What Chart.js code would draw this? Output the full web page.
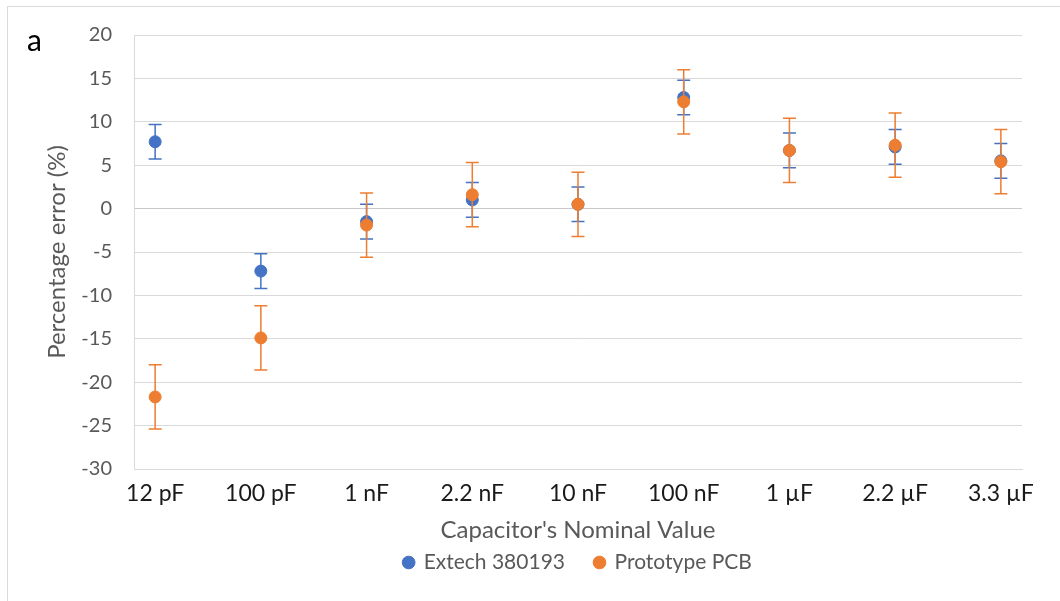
<!DOCTYPE html>
<html>
<head>
<meta charset="utf-8">
<script src="https://cdn.jsdelivr.net/npm/chart.js@4.4.1/dist/chart.umd.min.js"></script>
<style>
    html, body { margin: 0; padding: 0; background: #fff; overflow: hidden; }
    #wrap { position: relative; width: 1060px; height: 601px; }
    #frame { position: absolute; left: 7px; top: 6px; width: 1100px; height: 700px; border: 1px solid #d9d9d9; box-sizing: border-box; }
    #panel { position: absolute; left: 27px; top: 21px; font: 30px Lato, sans-serif; color: #000; }
    #chart { position: absolute; left: 0; top: 0; }
</style>
</head>
<body>
<div id="wrap">
    <div id="frame"></div>
    <canvas id="chart" width="1060" height="601"></canvas>
    <div id="panel">a</div>
</div>
<script>
// capacitor error chart
var categories = ['12 pF', '100 pF', '1 nF', '2.2 nF', '10 nF', '100 nF', '1 µF', '2.2 µF', '3.3 µF'];
var extechValues = [7.7, -7.2, -1.5, 1.0, 0.5, 12.8, 6.7, 7.1, 5.5];
var extechErrors = [2.0, 2.0, 2.0, 2.0, 2.0, 2.0, 2.0, 2.0, 2.0];
var prototypeValues = [-21.7, -14.9, -1.9, 1.6, 0.5, 12.3, 6.7, 7.3, 5.4];
var prototypeErrors = [3.7, 3.7, 3.7, 3.7, 3.7, 3.7, 3.7, 3.7, 3.7];
var yMin = -30, yMax = 20, yStep = 5;

var BLUE = '#4472C4';
var ORANGE = '#ED7D31';
var GRAY = '#595959';

function toPoints(values) {
    return values.map(function (v, i) { return { x: i + 1, y: v }; });
}

// draws each dataset's error bars just before its markers
var errorBars = {
    id: 'errorBars',
    beforeDatasetDraw: function (chart, args) {
        var ds = chart.data.datasets[args.index];
        if (!ds.errors) return;
        var xs = chart.scales.x, ys = chart.scales.y;
        var ctx = chart.ctx;
        var cap = 6.5;
        ctx.save();
        ctx.strokeStyle = ds.borderColor;
        ctx.lineWidth = 1.5;
        ds.data.forEach(function (p, i) {
            var e = ds.errors[i];
            var px = xs.getPixelForValue(p.x);
            var top = ys.getPixelForValue(p.y + e);
            var bot = ys.getPixelForValue(p.y - e);
            ctx.beginPath();
            ctx.moveTo(px, top); ctx.lineTo(px, bot);
            ctx.moveTo(px - cap, top); ctx.lineTo(px + cap, top);
            ctx.moveTo(px - cap, bot); ctx.lineTo(px + cap, bot);
            ctx.stroke();
        });
        ctx.restore();
    }
};

new Chart(document.getElementById('chart'), {
    type: 'scatter',
    data: {
        datasets: [{
            label: 'Extech 380193',
            data: toPoints(extechValues),
            errors: extechErrors,
            backgroundColor: BLUE,
            borderColor: BLUE,
            borderWidth: 1,
            pointRadius: 6,
            order: 2
        }, {
            label: 'Prototype PCB',
            data: toPoints(prototypeValues),
            errors: prototypeErrors,
            backgroundColor: ORANGE,
            borderColor: ORANGE,
            borderWidth: 1,
            pointRadius: 6,
            order: 1
        }]
    },
    options: {
        responsive: false,
        animation: false,
        devicePixelRatio: 1,
        layout: { padding: { top: 35, right: 38, left: 40, bottom: 18 } },
        scales: {
            x: {
                type: 'linear',
                min: 0.8,
                max: 9.2,
                afterBuildTicks: function (scale) {
                    scale.ticks = categories.map(function (c, i) { return { value: i + 1 }; });
                },
                afterFit: function (scale) {
                    scale.height = 53;
                    scale.paddingLeft = 0;
                    scale.paddingRight = 0;
                },
                grid: { display: false, drawTicks: false },
                border: { display: true, color: '#d9d9d9', width: 1 },
                ticks: {
                    autoSkip: false,
                    maxRotation: 0,
                    padding: 11,
                    color: '#1a1a1a',
                    font: { family: 'Lato', size: 23 },
                    callback: function (v) { return categories[v - 1]; }
                },
                title: {
                    display: true,
                    text: "Capacitor's Nominal Value",
                    color: GRAY,
                    font: { family: 'Lato', size: 24 },
                    padding: { top: 0, bottom: -23 }
                }
            },
            y: {
                min: yMin,
                max: yMax,
                afterFit: function (scale) {
                    scale.width = 94;
                    scale.paddingTop = 0;
                    scale.paddingBottom = 0;
                },
                grid: {
                    drawTicks: false,
                    color: function (c) { return c.tick && c.tick.value === 0 ? '#c8c8c8' : '#d9d9d9'; },
                    lineWidth: 1
                },
                border: { display: true, color: '#d9d9d9', width: 1 },
                ticks: {
                    stepSize: yStep,
                    padding: 22,
                    color: GRAY,
                    font: { family: 'Lato', size: 20 }
                },
                title: {
                    display: true,
                    text: 'Percentage error (%)',
                    color: GRAY,
                    font: { family: 'Lato', size: 24 },
                    padding: { top: 3, bottom: 0 }
                }
            }
        },
        plugins: {
            legend: {
                position: 'bottom',
                fullSize: false,
                labels: {
                    usePointStyle: true,
                    pointStyle: 'circle',
                    boxWidth: 9,
                    boxHeight: 9,
                    padding: 30,
                    color: GRAY,
                    font: { family: 'Lato', size: 21 },
                    sort: function (a, b) { return a.datasetIndex - b.datasetIndex; }
                }
            },
            tooltip: { enabled: false }
        }
    },
    plugins: [errorBars]
});
</script>
</body>
</html>
